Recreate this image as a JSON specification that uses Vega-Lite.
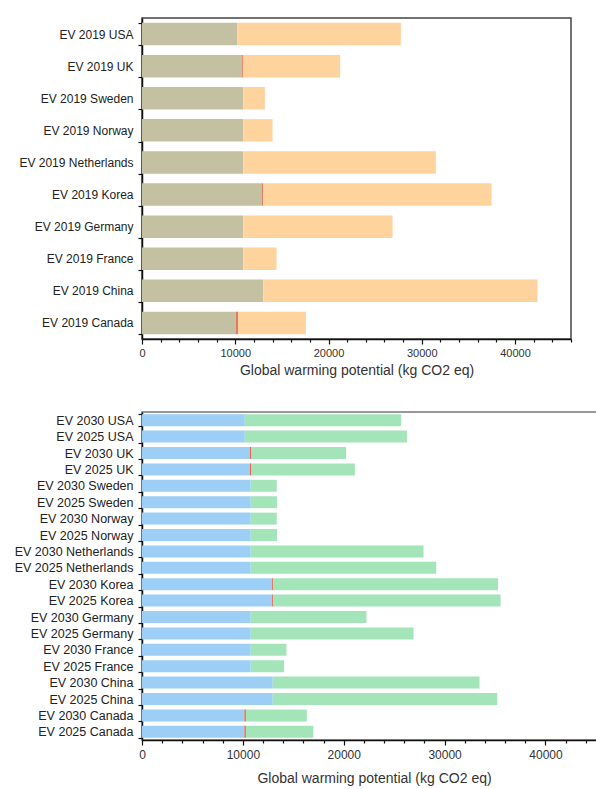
{
  "$schema": "https://vega.github.io/schema/vega-lite/v6.json",
  "background": "white",
  "padding": {"left": 13, "top": 11, "right": 0, "bottom": 0},
  "spacing": 27,
  "resolve": {"scale": {"color": "independent"}},
  "config": {
    "font": "Liberation Sans",
    "view": {"stroke": null},
    "axis": {"domainColor": "#111", "domainWidth": 1.5, "tickColor": "#111", "tickWidth": 1.2, "labelColor": "#333", "titleColor": "#333", "titleFontWeight": "normal", "grid": false}
  },
  "datasets": {
    "top": [
      {"label": "EV 2019 USA", "part": "Production", "value": 10210},
      {"label": "EV 2019 USA", "part": "Use", "value": 17550},
      {"label": "EV 2019 UK", "part": "Production", "value": 10700},
      {"label": "EV 2019 UK", "part": "Recycling", "value": 120},
      {"label": "EV 2019 UK", "part": "Use", "value": 10430},
      {"label": "EV 2019 Sweden", "part": "Production", "value": 10860},
      {"label": "EV 2019 Sweden", "part": "Use", "value": 2320},
      {"label": "EV 2019 Norway", "part": "Production", "value": 10860},
      {"label": "EV 2019 Norway", "part": "Use", "value": 3140},
      {"label": "EV 2019 Netherlands", "part": "Production", "value": 10860},
      {"label": "EV 2019 Netherlands", "part": "Use", "value": 20650},
      {"label": "EV 2019 Korea", "part": "Production", "value": 12870},
      {"label": "EV 2019 Korea", "part": "Recycling", "value": 130},
      {"label": "EV 2019 Korea", "part": "Use", "value": 24480},
      {"label": "EV 2019 Germany", "part": "Production", "value": 10860},
      {"label": "EV 2019 Germany", "part": "Use", "value": 16010},
      {"label": "EV 2019 France", "part": "Production", "value": 10860},
      {"label": "EV 2019 France", "part": "Use", "value": 3570},
      {"label": "EV 2019 China", "part": "Production", "value": 13000},
      {"label": "EV 2019 China", "part": "Use", "value": 29410},
      {"label": "EV 2019 Canada", "part": "Production", "value": 10050},
      {"label": "EV 2019 Canada", "part": "Recycling", "value": 250},
      {"label": "EV 2019 Canada", "part": "Use", "value": 7280}
    ],
    "bottom": [
      {"label": "EV 2030 USA", "part": "Production", "value": 10190},
      {"label": "EV 2030 USA", "part": "Use", "value": 15500},
      {"label": "EV 2025 USA", "part": "Production", "value": 10190},
      {"label": "EV 2025 USA", "part": "Use", "value": 16070},
      {"label": "EV 2030 UK", "part": "Production", "value": 10700},
      {"label": "EV 2030 UK", "part": "Recycling", "value": 150},
      {"label": "EV 2030 UK", "part": "Use", "value": 9390},
      {"label": "EV 2025 UK", "part": "Production", "value": 10700},
      {"label": "EV 2025 UK", "part": "Recycling", "value": 150},
      {"label": "EV 2025 UK", "part": "Use", "value": 10250},
      {"label": "EV 2030 Sweden", "part": "Production", "value": 10780},
      {"label": "EV 2030 Sweden", "part": "Use", "value": 2580},
      {"label": "EV 2025 Sweden", "part": "Production", "value": 10780},
      {"label": "EV 2025 Sweden", "part": "Use", "value": 2610},
      {"label": "EV 2030 Norway", "part": "Production", "value": 10780},
      {"label": "EV 2030 Norway", "part": "Use", "value": 2580},
      {"label": "EV 2025 Norway", "part": "Production", "value": 10780},
      {"label": "EV 2025 Norway", "part": "Use", "value": 2610},
      {"label": "EV 2030 Netherlands", "part": "Production", "value": 10780},
      {"label": "EV 2030 Netherlands", "part": "Use", "value": 17130},
      {"label": "EV 2025 Netherlands", "part": "Production", "value": 10780},
      {"label": "EV 2025 Netherlands", "part": "Use", "value": 18390},
      {"label": "EV 2030 Korea", "part": "Production", "value": 12900},
      {"label": "EV 2030 Korea", "part": "Recycling", "value": 100},
      {"label": "EV 2030 Korea", "part": "Use", "value": 22290},
      {"label": "EV 2025 Korea", "part": "Production", "value": 12900},
      {"label": "EV 2025 Korea", "part": "Recycling", "value": 100},
      {"label": "EV 2025 Korea", "part": "Use", "value": 22550},
      {"label": "EV 2030 Germany", "part": "Production", "value": 10780},
      {"label": "EV 2030 Germany", "part": "Use", "value": 11470},
      {"label": "EV 2025 Germany", "part": "Production", "value": 10780},
      {"label": "EV 2025 Germany", "part": "Use", "value": 16140},
      {"label": "EV 2030 France", "part": "Production", "value": 10780},
      {"label": "EV 2030 France", "part": "Use", "value": 3540},
      {"label": "EV 2025 France\u00a0", "part": "Production", "value": 10780},
      {"label": "EV 2025 France\u00a0", "part": "Use", "value": 3310},
      {"label": "EV 2030 China", "part": "Production", "value": 12960},
      {"label": "EV 2030 China", "part": "Use", "value": 20500},
      {"label": "EV 2025 China", "part": "Production", "value": 12960},
      {"label": "EV 2025 China", "part": "Use", "value": 22260},
      {"label": "EV 2030 Canada", "part": "Production", "value": 10150},
      {"label": "EV 2030 Canada", "part": "Recycling", "value": 150},
      {"label": "EV 2030 Canada", "part": "Use", "value": 6040},
      {"label": "EV 2025 Canada\u00a0", "part": "Production", "value": 10150},
      {"label": "EV 2025 Canada\u00a0", "part": "Recycling", "value": 150},
      {"label": "EV 2025 Canada\u00a0", "part": "Use", "value": 6690}
    ]
  },
  "vconcat": [
    {
      "width": 429,
      "height": 321,
      "view": {"stroke": "#444", "strokeWidth": 1.5},
      "data": {"name": "top"},
      "mark": {"type": "bar"},
      "encoding": {
        "y": {
          "field": "label", "type": "nominal", "sort": null,
          "scale": {"paddingInner": 0.3, "paddingOuter": 0.15},
          "axis": {"title": null, "tickBand": "extent", "tickSize": 4, "labelPadding": 5, "labelFontSize": 12, "labelColor": "#222"}
        },
        "x": {
          "field": "value", "type": "quantitative", "stack": "zero",
          "scale": {"domain": [0, 46000], "nice": false, "zero": true},
          "axis": {
            "title": "Global warming potential (kg CO2 eq)",
            "titleFontSize": 14, "titlePadding": 5,
            "values": [0,2000,4000,6000,8000,10000,12000,14000,16000,18000,20000,22000,24000,26000,28000,30000,32000,34000,36000,38000,40000,42000,44000,46000],
            "labelExpr": "datum.value % 10000 === 0 ? datum.value : ''",
            "labelFlush": false, "labelOverlap": false, "labelFontSize": 11, "labelPadding": 3,
            "tickSize": {"condition": {"test": "datum.value % 10000 === 0", "value": 5}, "value": 3}
          }
        },
        "color": {
          "field": "part", "type": "nominal", "legend": null,
          "scale": {"domain": ["Production", "Recycling", "Use"], "range": ["#c4c0a2", "#e8795e", "#ffd39e"]}
        }
      }
    },
    {
      "width": 464,
      "height": 328,
      "view": {"stroke": "#777", "strokeWidth": 1.5},
      "data": {"name": "bottom"},
      "mark": {"type": "bar"},
      "encoding": {
        "y": {
          "field": "label", "type": "nominal", "sort": null,
          "scale": {"paddingInner": 0.27, "paddingOuter": 0.135},
          "axis": {"title": null, "tickBand": "extent", "tickSize": 4, "labelPadding": 5, "labelFontSize": 12.5, "labelColor": "#222"}
        },
        "x": {
          "field": "value", "type": "quantitative", "stack": "zero",
          "scale": {"domain": [0, 46000], "nice": false, "zero": true},
          "axis": {
            "title": "Global warming potential (kg CO2 eq)",
            "titleFontSize": 14, "titlePadding": 11,
            "values": [0,2000,4000,6000,8000,10000,12000,14000,16000,18000,20000,22000,24000,26000,28000,30000,32000,34000,36000,38000,40000,42000,44000,46000],
            "labelExpr": "datum.value % 10000 === 0 ? datum.value : ''",
            "labelFlush": false, "labelOverlap": false, "labelFontSize": 12, "labelPadding": 4,
            "tickSize": {"condition": {"test": "datum.value % 10000 === 0", "value": 5}, "value": 3}
          }
        },
        "color": {
          "field": "part", "type": "nominal", "legend": null,
          "scale": {"domain": ["Production", "Recycling", "Use"], "range": ["#9dcff6", "#e8664e", "#a3e4b9"]}
        }
      }
    }
  ]
}
